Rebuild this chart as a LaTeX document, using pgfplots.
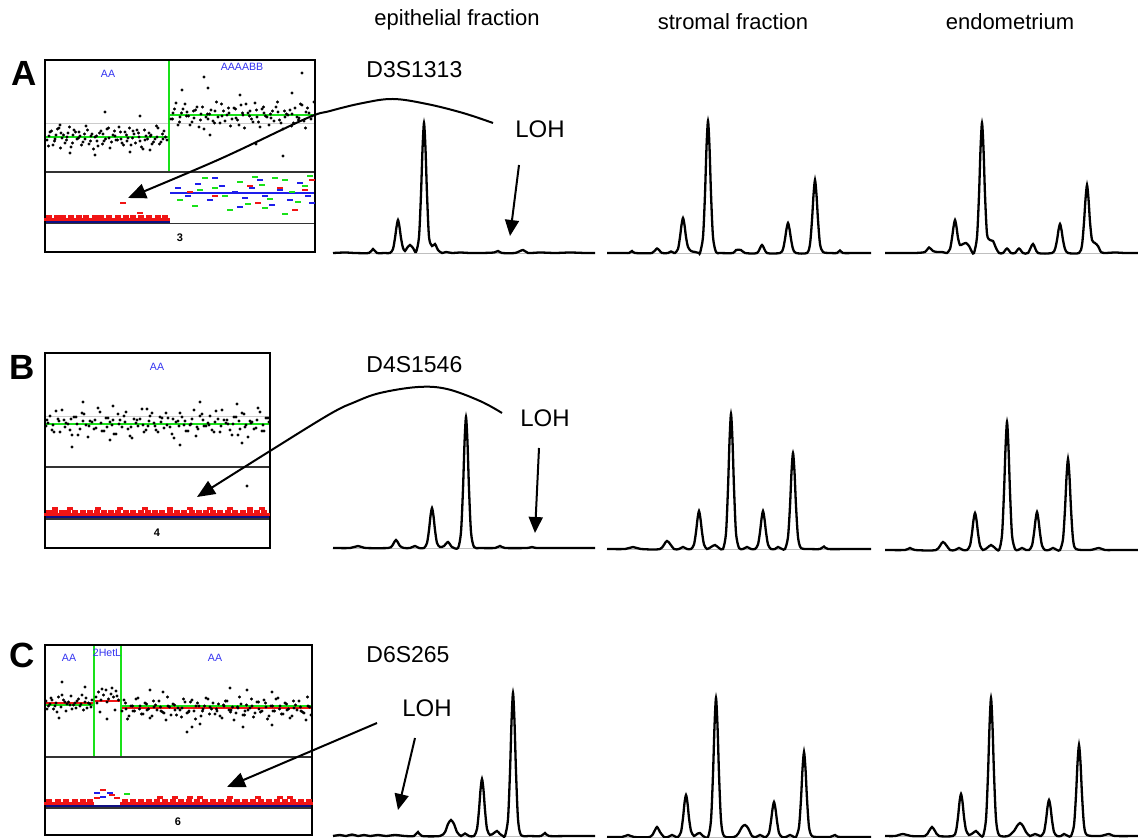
\documentclass[border=0pt]{standalone}
\usepackage{pgfplots}
\pgfplotsset{compat=1.18}
\usepackage{fontspec}
\setmainfont{Liberation Sans}
\usetikzlibrary{arrows.meta}
\definecolor{snpg}{RGB}{25,225,25}
\definecolor{snpb}{RGB}{30,30,235}
\definecolor{snpn}{RGB}{15,15,130}
\definecolor{snpr}{RGB}{240,20,20}
\definecolor{lblb}{RGB}{50,50,240}
\begin{document}
\begin{tikzpicture}
\begin{axis}[at={(0,0)},anchor=south west,scale only axis,width=569pt,height=419pt,
  xmin=0,xmax=1138,ymin=0,ymax=838,y dir=reverse,hide axis,clip=false]
% ---------------- titles
\node[font=\fontsize{11}{13}\selectfont] at (axis cs:457,20) {epithelial fraction};
\node[font=\fontsize{11}{13}\selectfont] at (axis cs:733,22) {stromal fraction};
\node[font=\fontsize{11}{13}\selectfont] at (axis cs:1010,22) {endometrium};
\node[font=\fontsize{17.5}{19}\selectfont\bfseries] at (axis cs:24,73) {A};
\node[font=\fontsize{17.5}{19}\selectfont\bfseries] at (axis cs:22,367) {B};
\node[font=\fontsize{17.5}{19}\selectfont\bfseries] at (axis cs:22,655) {C};
\node[font=\fontsize{11.5}{13}\selectfont,anchor=west,inner sep=0pt] at (axis cs:366,70) {D3S1313};
\node[font=\fontsize{11.5}{13}\selectfont,anchor=west,inner sep=0pt] at (axis cs:366,365) {D4S1546};
\node[font=\fontsize{11.5}{13}\selectfont,anchor=west,inner sep=0pt] at (axis cs:366,655) {D6S265};
\node[font=\fontsize{12}{14}\selectfont] at (axis cs:540,129) {LOH};
\node[font=\fontsize{12}{14}\selectfont] at (axis cs:545,418) {LOH};
\node[font=\fontsize{12}{14}\selectfont] at (axis cs:427,708) {LOH};
\pgfplotsset{dots/.style={only marks,mark=*,mark size=0.55pt,black},
  dash/.style={only marks,mark=-,mark size=1.6pt,mark options={line width=1.25pt}}}
% ================= SNP panel A
\addplot[gray!40,line width=0.5pt] coordinates {(45,124)(315,124)};
\addplot[dots] coordinates {
(47,140)(50,132)(53,145)(56,135)(59,128)(62,138)(65,143)(68,133)(71,147)(74,130)(77,139)(80,136)(83,142)(86,126)(89,144)(92,134)(95,137)(98,146)(101,131)(104,141)(107,129)(110,148)(113,135)(116,140)(119,127)(122,143)(125,132)(128,138)(131,145)(134,134)(137,130)(140,141)(143,149)(146,136)(149,133)(152,144)(155,139)(158,128)(161,142)(164,131)(167,140)
(48.5,146)(51.5,131)(54.5,141)(57.5,129)(60.5,148)(63.5,135)(66.5,140)(69.5,127)(72.5,143)(75.5,132)(78.5,138)(81.5,145)(84.5,134)(87.5,130)(90.5,141)(93.5,149)(96.5,136)(99.5,133)(102.5,144)(105.5,139)(108.5,128)(111.5,142)(114.5,131)(117.5,140)(120.5,132)(123.5,145)(126.5,135)(129.5,128)(132.5,138)(135.5,143)(138.5,133)(141.5,147)(144.5,130)(147.5,139)(150.5,136)(153.5,142)(156.5,126)(159.5,144)(162.5,134)(165.5,137)
(49,136)(55,139)(61,133)(67,137)(73,135)(79,132)(85,139)(91,136)(97,141)(103,134)(109,138)(115,136)(121,139)(127,141)(133,131)(139,137)(145,140)(151,135)(157,137)(163,139)
(105,112)(140,116)(95,155)(70,153)(150,150)(60,125)(130,152)
(171,119)(174.5,109)(178,125)(181.5,113)(185,104)(188.5,116)(192,122)(195.5,110)(199,127)(202.5,107)(206,117)(209.5,114)(213,121)(216.5,102)(220,123)(223.5,111)(227,115)(230.5,126)(234,108)(237.5,120)(241,105)(244.5,128)(248,113)(251.5,119)(255,103)(258.5,122)(262,109)(265.5,116)(269,125)(272.5,111)(276,107)(279.5,120)(283,129)(286.5,114)(290,110)(293.5,123)(297,117)(300.5,104)(304,121)(307.5,108)(311,119)
(172.5,119)(176,103)(179.5,122)(183,109)(186.5,116)(190,125)(193.5,111)(197,107)(200.5,120)(204,129)(207.5,114)(211,110)(214.5,123)(218,117)(221.5,104)(225,121)(228.5,108)(232,119)(235.5,109)(239,125)(242.5,113)(246,104)(249.5,116)(253,122)(256.5,110)(260,127)(263.5,107)(267,117)(270.5,114)(274,121)(277.5,102)(281,123)(284.5,111)(288,115)(291.5,126)(295,108)(298.5,120)(302,105)(305.5,128)(309,113)
(173,113)(180,117)(187,112)(194,118)(201,114)(208,119)(215,111)(222,116)(229,113)(236,118)(243,115)(250,111)(257,117)(264,113)(271,118)(278,112)(285,117)(292,114)(299,118)(306,112)(312,116)
(182,90)(208,88)(204,77)(302,73)(283,156)(210,135)(256,144)(292,93)(314,102)(240,95)};
\addplot[snpg,line width=1.2pt] coordinates {(45,137)(169,137)};
\addplot[snpg,line width=1.2pt] coordinates {(169,115)(315,115)};
\addplot[snpg,line width=0.6pt] coordinates {(169,60)(169,172)};
\node[font=\fontsize{5.3}{6}\selectfont,text=lblb] at (axis cs:108,74) {AA};
\node[font=\fontsize{5.3}{6}\selectfont,text=lblb] at (axis cs:242,67) {AAAABB};
% lower A
\addplot[snpb,line width=1pt] coordinates {(170,193)(315,193)};
\addplot[dash,snpg] coordinates {
(180,200)(195,206)(205,178)(215,188)(225,196)(240,182)(248,204)(262,185)(270,199)(285,180)(292,192)(305,186)(310,176)(230,210)(255,177)(298,202)(275,178)(285,214)(200,190)(265,208)};
\addplot[dash,snpb] coordinates {
(178,188)(188,196)(198,184)(210,200)(222,186)(235,192)(245,198)(252,188)(265,196)(272,205)(280,190)(290,200)(300,183)(308,196)(240,207)(215,178)(260,180)(312,203)};
\addplot[dash,snpr] coordinates {
(190,192)(215,196)(258,203)(280,188)(305,190)(250,186)(295,210)(312,180)};
\addplot[dash,snpr] coordinates {
(47,219.5)(51,219.5)(55,219.5)(59,219.5)(63,219.5)(67,219.5)(71,219.5)(75,219.5)(79,219.5)(83,219.5)(87,219.5)(91,219.5)(95,219.5)(99,219.5)(103,219.5)(107,219.5)(111,219.5)(115,219.5)(119,219.5)(123,219.5)(127,219.5)(131,219.5)(135,219.5)(139,219.5)(143,219.5)(147,219.5)(151,219.5)(155,219.5)(159,219.5)(163,219.5)(167,219.5)
(49,216.5)(57,216.5)(63,216.5)(71,216.5)(79,216.5)(86,216.5)(95,216.5)(101,216.5)(109,216.5)(118,216.5)(126,216.5)(133,216.5)(141,216.5)(149,216.5)(158,216.5)(165,216.5)
(123,203)(140,213)};
\addplot[snpn,line width=1.2pt] coordinates {(45,221.5)(170,221.5)};
\draw[black!80,line width=0.6pt] (axis cs:45,172) -- (axis cs:315,172);
\draw[black!80,line width=0.6pt] (axis cs:45,223.5) -- (axis cs:315,223.5);
\draw[line width=1pt] (axis cs:45,60) rectangle (axis cs:315,252);
\node[font=\fontsize{5.5}{6}\selectfont\bfseries] at (axis cs:180,238) {3};
% ================= SNP panel B
\addplot[gray!40,line width=0.5pt] coordinates {(45,417)(270,417)};
\addplot[dots] coordinates {
(46,426)(50,416)(54,432)(58,419)(62,410)(66,423)(70,430)(74,417)(78,435)(82,413)(86,425)(90,421)(94,429)(98,408)(102,431)(106,418)(110,422)(114,434)(118,414)(122,427)(126,412)(130,436)(134,419)(138,426)(142,409)(146,430)(150,416)(154,423)(158,432)(162,418)(166,413)(170,427)(174,438)(178,421)(182,417)(186,431)(190,425)(194,410)(198,429)(202,414)(206,426)(210,416)(214,432)(218,419)(222,410)(226,423)(230,430)(234,417)(238,435)(242,413)(246,425)(250,421)(254,429)(258,408)(262,431)(266,418)
(48,423)(52,430)(56,411)(60,432)(64,420)(68,424)(72,435)(76,417)(80,429)(84,414)(88,437)(92,422)(96,428)(100,412)(104,431)(108,418)(112,425)(116,434)(120,420)(124,416)(128,429)(132,438)(136,423)(140,419)(144,432)(148,426)(152,413)(156,430)(160,417)(164,428)(168,418)(172,434)(176,422)(180,413)(184,425)(188,431)(192,419)(196,436)(200,416)(204,426)(208,423)(212,430)(216,411)(220,432)(224,420)(228,424)(232,435)(236,417)(240,429)(244,414)(248,437)(252,422)(256,428)(260,412)(264,431)(268,418)
(47,420)(53,425)(59,421)(65,427)(71,419)(77,424)(83,421)(89,426)(95,420)(101,423)(107,427)(113,420)(119,424)(125,422)(131,427)(137,420)(143,425)(149,421)(155,426)(161,422)(167,425)(173,419)(179,426)(185,421)(191,424)(197,427)(203,420)(209,425)(215,422)(221,426)(227,420)(233,424)(239,421)(245,427)(251,423)(257,420)(263,425)(269,422)
(83,402)(113,406)(72,447)(237,404)(242,443)(147,409)(110,440)(180,445)(200,402)(247,486)};
\addplot[snpg,line width=1.2pt] coordinates {(45,424)(270,424)};
\node[font=\fontsize{5.3}{6}\selectfont,text=lblb] at (axis cs:157,367) {AA};
\addplot[dash,snpr] coordinates {
(47,514.5)(51,514.5)(55,514.5)(59,514.5)(63,514.5)(67,514.5)(71,514.5)(75,514.5)(79,514.5)(83,514.5)(87,514.5)(91,514.5)(95,514.5)(99,514.5)(103,514.5)(107,514.5)(111,514.5)(115,514.5)(119,514.5)(123,514.5)(127,514.5)(131,514.5)(135,514.5)(139,514.5)(143,514.5)(147,514.5)(151,514.5)(155,514.5)(159,514.5)(163,514.5)(167,514.5)(171,514.5)(175,514.5)(179,514.5)(183,514.5)(187,514.5)(191,514.5)(195,514.5)(199,514.5)(203,514.5)(207,514.5)(211,514.5)(215,514.5)(219,514.5)(223,514.5)(227,514.5)(231,514.5)(235,514.5)(239,514.5)(243,514.5)(247,514.5)(251,514.5)(255,514.5)(259,514.5)(263,514.5)(267,514.5)
(49,511.5)(55,511.5)(62,511.5)(68,511.5)(75,511.5)(83,511.5)(90,511.5)(97,511.5)(104,511.5)(111,511.5)(118,511.5)(126,511.5)(133,511.5)(141,511.5)(148,511.5)(155,511.5)(162,511.5)(170,511.5)(177,511.5)(184,511.5)(192,511.5)(199,511.5)(206,511.5)(213,511.5)(220,511.5)(228,511.5)(235,511.5)(243,511.5)(250,511.5)(257,511.5)(264,511.5)
(55,508.5)(70,508.5)(98,508.5)(120,508.5)(145,508.5)(170,508.5)(190,508.5)(210,508.5)(230,508.5)(250,508.5)(262,508.5)};
\addplot[snpn,line width=1.2pt] coordinates {(45,517)(270,517)};
\draw[black!80,line width=0.6pt] (axis cs:45,467) -- (axis cs:270,467);
\draw[black!80,line width=0.6pt] (axis cs:45,519) -- (axis cs:270,519);
\draw[line width=1pt] (axis cs:45,353) rectangle (axis cs:270,548);
\node[font=\fontsize{5.5}{6}\selectfont\bfseries] at (axis cs:157,533) {4};
% ================= SNP panel C
\addplot[dots] coordinates {
(46,701)(48.5,706)(51,698)(53.5,709)(56,703)(58.5,697)(61,707)(63.5,700)(66,711)(68.5,702)(71,696)(73.5,705)(76,708)(78.5,699)(81,704)(83.5,710)(86,698)(88.5,703)(91,707)(47,709)(52,700)(57,712)(62,695)(67,704)(72,709)(77,701)(82,695)(87,708)(92,700)(62,682)(85,687)(59,718)(50,704)(55,706)(65,702)(70,705)(75,703)(80,706)(85,702)(90,704)
(96,697)(98.5,692)(101,700)(103.5,695)(106,690)(108.5,699)(111,694)(113.5,697)(116,691)(118.5,700)(97,703)(102,689)(107,702)(112,688)(117,696)(107,719)(100,712)(115,710)
(122,711)(125.5,703)(129,716)(132.5,706)(136,699)(139.5,709)(143,714)(146.5,704)(150,718)(153.5,701)(157,710)(160.5,707)(164,713)(167.5,697)(171,715)(174.5,705)(178,708)(181.5,717)(185,702)(188.5,712)(192,700)(195.5,719)(199,706)(202.5,711)(206,698)(209.5,714)(213,703)(216.5,709)(220,716)(223.5,705)(227,701)(230.5,712)(234,720)(237.5,707)(241,704)(244.5,715)(248,710)(251.5,699)(255,713)(258.5,702)(262,711)(265.5,703)(269,716)(272.5,706)(276,699)(279.5,709)(283,714)(286.5,704)(290,718)(293.5,701)(297,710)(300.5,707)(304,713)(307.5,697)(311,715)
(124,700)(127.5,719)(131,706)(134.5,711)(138,698)(141.5,714)(145,703)(148.5,709)(152,716)(155.5,705)(159,701)(162.5,712)(166,720)(169.5,707)(173,704)(176.5,715)(180,710)(183.5,699)(187,713)(190.5,702)(194,711)(197.5,703)(201,716)(204.5,706)(208,699)(211.5,709)(215,714)(218.5,704)(222,718)(225.5,701)(229,710)(232.5,707)(236,713)(239.5,697)(243,715)(246.5,705)(250,708)(253.5,717)(257,702)(260.5,712)(264,700)(267.5,719)(271,706)(274.5,711)(278,698)(281.5,714)(285,703)(288.5,709)(292,716)(295.5,705)(299,701)(302.5,712)(306,720)(309.5,707)
(126,709)(133,711)(140,706)(147,710)(154,707)(161,711)(168,706)(175,710)(182,708)(189,711)(196,706)(203,709)(210,707)(217,711)(224,706)(231,710)(238,708)(245,711)(252,706)(259,709)(266,707)(273,711)(280,706)(287,710)(294,708)(301,711)(308,706)
(187,732)(192,727)(247,690)(272,692)(163,692)(243,727)(272,725)(150,690)(230,688)(200,724)};
\addplot[snpg,line width=1.2pt] coordinates {(45,705)(94,705)};
\addplot[snpr,line width=0.7pt] coordinates {(45,703)(94,703)};
\addplot[snpr,line width=0.7pt] coordinates {(94,701)(121,701)};
\addplot[snpg,line width=1.2pt] coordinates {(121,706)(312,706)};
\addplot[snpr,line width=0.7pt] coordinates {(121,708)(312,708)};
\addplot[snpg,line width=0.6pt] coordinates {(94,645)(94,757)};
\addplot[snpg,line width=0.6pt] coordinates {(121,645)(121,757)};
\node[font=\fontsize{5.3}{6}\selectfont,text=lblb] at (axis cs:69,658) {AA};
\node[font=\fontsize{5.3}{6}\selectfont,text=lblb] at (axis cs:107,653) {2HetL};
\node[font=\fontsize{5.3}{6}\selectfont,text=lblb] at (axis cs:215,658) {AA};
\addplot[dash,snpr] coordinates {
(47,803.5)(51,803.5)(55,803.5)(59,803.5)(63,803.5)(67,803.5)(71,803.5)(75,803.5)(79,803.5)(83,803.5)(87,803.5)(91,803.5)
(123,803.5)(127,803.5)(131,803.5)(135,803.5)(139,803.5)(143,803.5)(147,803.5)(151,803.5)(155,803.5)(159,803.5)(163,803.5)(167,803.5)(171,803.5)(175,803.5)(179,803.5)(183,803.5)(187,803.5)(191,803.5)(195,803.5)(199,803.5)(203,803.5)(207,803.5)(211,803.5)(215,803.5)(219,803.5)(223,803.5)(227,803.5)(231,803.5)(235,803.5)(239,803.5)(243,803.5)(247,803.5)(251,803.5)(255,803.5)(259,803.5)(263,803.5)(267,803.5)(271,803.5)(275,803.5)(279,803.5)(283,803.5)(287,803.5)(291,803.5)(295,803.5)(299,803.5)(303,803.5)(307,803.5)(310,803.5)
(49,800.5)(58,800.5)(66,800.5)(75,800.5)(83,800.5)(90,800.5)(125,800.5)(133,800.5)(141,800.5)(149,800.5)(157,800.5)(165,800.5)(173,800.5)(181,800.5)(189,800.5)(197,800.5)(205,800.5)(213,800.5)(221,800.5)(229,800.5)(237,800.5)(245,800.5)(253,800.5)(261,800.5)(269,800.5)(277,800.5)(285,800.5)(293,800.5)(301,800.5)(309,800.5)
(160,797.5)(175,797.5)(190,797.5)(200,797.5)(230,797.5)(258,797.5)(280,797.5)(290,797.5)
(103,790)(112,795)(117,798)(97,798)};
\addplot[dash,snpb] coordinates {(97,793)(103,797)(110,793)};
\addplot[dash,snpg] coordinates {(127,794)};
\addplot[snpn,line width=1.2pt] coordinates {(45,806)(312,806)};
\draw[black!80,line width=0.6pt] (axis cs:45,757) -- (axis cs:312,757);
\draw[black!80,line width=0.6pt] (axis cs:45,808) -- (axis cs:312,808);
\draw[line width=1pt] (axis cs:45,645) rectangle (axis cs:312,835);
\node[font=\fontsize{5.5}{6}\selectfont\bfseries] at (axis cs:178,822) {6};
% ================= traces: gray baselines
\addplot[gray!50,line width=0.4pt] coordinates {(333,253.5)(595,253.5)};
\addplot[gray!50,line width=0.4pt] coordinates {(607,253.5)(871,253.5)};
\addplot[gray!50,line width=0.4pt] coordinates {(885,253.5)(1138,253.5)};
\addplot[gray!50,line width=0.4pt] coordinates {(333,548.5)(595,548.5)};
\addplot[gray!50,line width=0.4pt] coordinates {(607,549.5)(871,549.5)};
\addplot[gray!50,line width=0.4pt] coordinates {(885,550.5)(1138,550.5)};
\addplot[gray!50,line width=0.4pt] coordinates {(333,836.5)(595,836.5)};
\addplot[gray!50,line width=0.4pt] coordinates {(607,837.5)(871,837.5)};
\addplot[gray!50,line width=0.4pt] coordinates {(885,836.5)(1138,836.5)};
\pgfplotsset{trace/.style={black,line width=1.15pt,smooth,tension=0.45}}
% A epithelial
\addplot[trace] coordinates {(333,253)(345,252.5)(355,253)(369,253)(373,249)(377,253)(385,253)
(390,253)(393,249)(395,238)(396.5,227)(398,220)(399.5,227)(401,238)(403,248)(405,251)
(407,248)(410,245)(413,248)
(416,252)(419,237)(421,194)(422.5,149)(424,123)(425.5,149)(427,194)(429,237)(432,246)
(435,244)(438,250)(442,253)(446,252)(452,253)(460,252.5)(470,253)(482,253)(494,252.5)(498,251)(502,253)(515,253)(523,250)(528,253)(540,252.5)(555,253)(570,252.5)(585,253)(595,253)};
% A stromal
\addplot[trace] coordinates {(607,253)(620,253)(629,253)(632,251)(635,253)(652,253)(657,248.5)(662,253)(668,253)(671,251.5)(674,253)
(675,253)(678,249)(680,237)(681.5,225)(683,218)(684.5,225)(686,237)(688,247)(691,251)(695,252)(699,253)
(700,253)(703,237)(705,194)(706.5,147)(708,121)(709.5,147)(711,194)(713,237)(716,252)
(720,253)(733,253)(736,250)(741,250)(745,253)(757,253)(762,245)(767,253)
(780,253)(783,249)(785,239)(786.5,229)(788,223)(789.5,229)(791,239)(793,249)(796,253)
(807,253)(810,244)(812,220)(813.5,195)(815,180)(816.5,195)(818,220)(820,244)(823,252)
(830,253)(837,253)(840,250.5)(843,253)(855,253)(871,253)};
% A endometrium
\addplot[trace] coordinates {(885,253)(900,253)(915,253)(925,252)(929,247.5)(933,251)(937,252)(942,252)(946,253)
(947,253)(950,249)(952,238)(953.5,227)(955,220)(956.5,227)(958,238)(960,245)(963,244)(966,243)(969,246)(972,252)
(974,253)(977,237)(979,195)(980.5,149)(982,123)(983.5,149)(985,195)(987,234)(990,240)(993,241)(996,248)(999,253)
(1003,253)(1007,248.5)(1011,253)(1015,253)(1019,248.5)(1023,253)(1028,253)(1033,244)(1038,253)
(1052,253)(1055,249)(1057,240)(1058.5,230)(1060,224)(1061.5,230)(1063,240)(1065,249)(1068,253)
(1079,253)(1082,245)(1084,222)(1085.5,199)(1087,185)(1088.5,199)(1090,222)(1092,240)(1095,243)(1098,246)(1101,252)
(1105,253)(1115,252.5)(1125,253)(1138,253)};
% B epithelial
\addplot[trace] coordinates {(333,548)(350,548)(358,546)(366,548)(388,548)(392,546)(396,540)(400,546)(404,548)(410,548)(415,546)(419,548)
(424,548)(427,543)(429,530)(430.5,516)(432,508)(433.5,516)(435,530)(437,543)(440,547)(444,546)(448,542)(452,547)
(458,548)(461,532)(463,489)(464.5,443)(466,417)(467.5,443)(469,489)(471,532)(474,547)
(480,548)(495,548)(500,546)(505,548)(527,548)(532,547)(537,548)(560,548)(595,548)};
% B stromal
\addplot[trace] coordinates {(607,549)(625,549)(633,547)(641,549)(660,549)(667,541)(674,549)(679,549)(683,547)(687,549)
(691,549)(694,544.5)(696,532)(697.5,519)(699,511)(700.5,519)(702,532)(704,544.5)(707,549)(711,547)(715,545)(719,548)
(723,549)(726,533)(728,488)(729.5,441)(731,414)(732.5,441)(734,488)(736,533)(739,548)
(743,549)(747,547)(751,549)
(755,549)(758,544.5)(760,532)(761.5,519)(763,511)(764.5,519)(766,532)(768,544.5)(771,549)
(775,549)(778,547)(782,549)
(785,549)(788,537)(790,506)(791.5,472)(793,453)(794.5,472)(796,506)(798,537)(801,548)
(810,549)(820,549)(824,546.5)(828,549)(850,549)(871,549)};
% B endometrium
\addplot[trace] coordinates {(885,550)(905,550)(910,548)(915,550)(936,550)(943,542)(950,550)(955,550)(959,548)(963,550)
(967,550)(970,545.5)(972,533)(973.5,520)(975,513)(976.5,520)(978,533)(980,545.5)(983,550)(987,548)(991,545)(995,548)
(999,550)(1002,535)(1004,492)(1005.5,448)(1007,422)(1008.5,448)(1010,492)(1012,535)(1015,549)
(1018,550)(1022,548)(1026,550)
(1029,550)(1032,545.5)(1034,533)(1035.5,520)(1037,512)(1038.5,520)(1040,533)(1042,545.5)(1045,550)
(1049,550)(1053,548)(1057,550)
(1060,550)(1063,539)(1065,509)(1066.5,477)(1068,459)(1069.5,477)(1071,509)(1073,539)(1076,549)
(1090,550)(1099,548)(1105,550)(1120,550)(1138,550)};
% C epithelial
\addplot[trace] coordinates {(333,836)(340,835)(346,836)(352,834.5)(358,836)(364,835)(370,836)(378,835)(386,836)(395,835)(405,836)(414,836)(418,832)(422,836)(440,836)(445,832)(448,824)(451,820)(454,824)(457,832)(461,836)(465,833.5)(469,836)
(474,836)(477,829)(479,810)(480.5,790)(482,779)(483.5,790)(485,810)(487,829)(490,835)(494,833)(497,831)(500,834)(503,836)
(505,836)(508,819)(510,772)(511.5,722)(513,693)(514.5,722)(516,772)(518,819)(521,835)
(530,836)(541,836)(545,833)(549,836)(570,836)(595,836)};
% C stromal
\addplot[trace] coordinates {(607,837)(622,837)(628,835)(634,837)(650,837)(654,832)(657,827)(660,832)(664,837)(668,837)(672,835)(676,837)
(678,837)(681,832)(683,818)(684.5,803)(686,795)(687.5,803)(689,818)(691,831)(694,836)(697,834)(700,833)(703,836)
(708,837)(711,820)(713,774)(714.5,726)(716,698)(717.5,726)(719,774)(721,820)(724,836)
(734,837)(738,834)(742,827)(745,825)(748,828)(752,836)(756,837)(760,835)(764,837)
(766,837)(769,833)(771,821)(772.5,809)(774,802)(775.5,809)(777,821)(779,833)(782,837)(786,837)(790,835)(794,837)
(796,837)(799,827)(801,799)(802.5,769)(804,752)(805.5,769)(807,799)(809,827)(812,836)
(820,837)(830,837)(835,835)(840,837)(871,837)};
% C endometrium
\addplot[trace] coordinates {(885,836)(895,836)(903,834)(911,836)(925,836)(929,831)(932,827)(935,831)(939,836)
(953,836)(956,831)(958,817)(959.5,802)(961,794)(962.5,802)(964,817)(966,830)(969,835)(973,833)(976,831)(979,834)
(983,836)(986,819)(988,774)(989.5,726)(991,698)(992.5,726)(994,774)(996,819)(999,835)
(1008,836)(1014,831)(1017,826)(1020,823)(1023,826)(1026,832)(1030,836)(1035,834)(1040,836)
(1041,836)(1044,832)(1046,820)(1047.5,807)(1049,800)(1050.5,807)(1052,820)(1054,832)(1057,836)(1061,836)(1064,834)(1068,836)
(1071,836)(1074,825)(1076,795)(1077.5,763)(1079,745)(1080.5,763)(1082,795)(1084,825)(1087,835)
(1100,836)(1109,834)(1115,836)(1138,836)};
% ================= arrows
\addplot[black,line width=1pt,smooth,tension=0.6,-{Triangle[length=9pt,width=7.5pt]}] coordinates {(493,123)(463,113)(427,104)(393,99)(363,103)(330,111)(305,119)(220,159)(128,198)};
\addplot[black,line width=1pt,smooth,tension=0.6,-{Triangle[length=9pt,width=7.5pt]}] coordinates {(502,413)(480,401)(447,389)(418,387)(380,393)(355,402)(330,414)(270,451)(197,497)};
\addplot[black,line width=1pt,-{Triangle[length=9pt,width=7.5pt]}] coordinates {(377,723)(227,787)};
\addplot[black,line width=1pt,-{Triangle[length=8pt,width=7pt]}] coordinates {(519,165)(510,236)};
\addplot[black,line width=1pt,-{Triangle[length=8pt,width=7pt]}] coordinates {(539,448)(535,533)};
\addplot[black,line width=1pt,-{Triangle[length=8pt,width=7pt]}] coordinates {(415,738)(398,810)};
\end{axis}
\pgfresetboundingbox
\path (0,0) rectangle (569pt,419pt);
\end{tikzpicture}
\end{document}
